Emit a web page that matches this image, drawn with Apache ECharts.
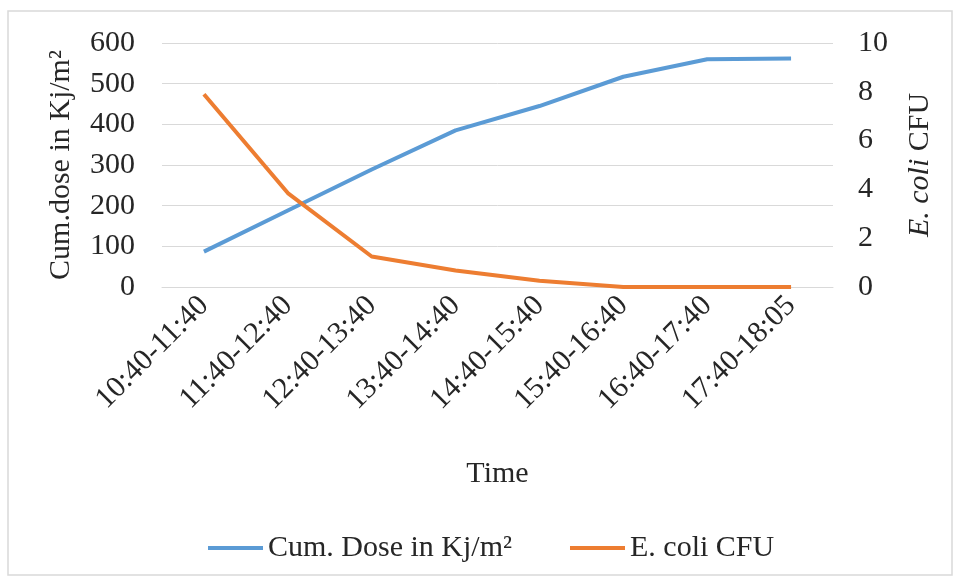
<!DOCTYPE html>
<html>
<head>
<meta charset="utf-8">
<script src="https://cdn.jsdelivr.net/npm/echarts@6/dist/echarts.min.js"></script>
<style>
  html, body { margin: 0; padding: 0; background: #fff; }
  #chart { width: 958px; height: 582px; }
</style>
</head>
<body>
<div id="chart"></div>
<script>
// Time windows of the exposure
const timeSlots = ['10:40-11:40', '11:40-12:40', '12:40-13:40', '13:40-14:40',
                   '14:40-15:40', '15:40-16:40', '16:40-17:40', '17:40-18:05'];
// Cumulative UV dose (kJ/m²)
const cumDose = [87, 188, 289, 385, 445, 517, 560, 562];
// E. coli colony counts
const ecoliCFU = [7.9, 3.85, 1.25, 0.68, 0.26, 0, 0, 0];
// Axis tick ranges
const doseTicks = { min: 0, max: 600, interval: 100 };
const cfuTicks = { min: 0, max: 10, interval: 2 };

const FONT = '"Liberation Serif", "Times New Roman", serif';
const FS = 30;
const TXT = '#262626';
const GRID = '#d9d9d9';

const chart = echarts.init(document.getElementById('chart'));
chart.setOption({
  animation: false,
  backgroundColor: '#ffffff',
  textStyle: { fontFamily: FONT, color: TXT },
  graphic: [{
    type: 'rect',
    shape: { x: 8, y: 11, width: 944, height: 564 },
    style: { fill: 'none', stroke: GRID, lineWidth: 1.5 },
    silent: true
  }],
  grid: { left: 162, right: 125, top: 43, bottom: 295 },
  legend: {
    bottom: 14,
    left: 203,
    itemWidth: 55,
    itemHeight: 4,
    itemGap: 58,
    icon: 'rect',
    textStyle: { fontFamily: FONT, fontSize: FS, color: TXT },
    data: ['Cum. Dose in Kj/m²', 'E. coli CFU']
  },
  xAxis: {
    type: 'category',
    data: timeSlots,
    boundaryGap: true,
    name: 'Time',
    nameLocation: 'middle',
    nameGap: 172,
    nameTextStyle: { fontFamily: FONT, fontSize: FS, color: TXT },
    axisLine: { show: true, lineStyle: { color: GRID, width: 1 } },
    axisTick: { show: false },
    axisLabel: { rotate: 45, margin: 14, fontFamily: FONT, fontSize: FS, color: TXT, interval: 0 }
  },
  yAxis: [{
    type: 'value',
    min: doseTicks.min, max: doseTicks.max, interval: doseTicks.interval,
    name: 'Cum.dose in Kj/m²',
    nameLocation: 'middle',
    nameGap: 86,
    nameTextStyle: { fontFamily: FONT, fontSize: FS, color: TXT },
    axisLine: { show: false },
    axisTick: { show: false },
    axisLabel: { margin: 27, fontFamily: FONT, fontSize: FS, color: TXT },
    splitLine: { lineStyle: { color: GRID, width: 1 } }
  }, {
    type: 'value',
    position: 'right',
    min: cfuTicks.min, max: cfuTicks.max, interval: cfuTicks.interval,
    name: '{i|E. coli} CFU',
    nameLocation: 'middle',
    nameGap: 72,
    nameRotate: 90,
    nameTextStyle: {
      fontFamily: FONT, fontSize: FS, color: TXT,
      rich: { i: { fontFamily: FONT, fontSize: FS, fontStyle: 'italic', color: TXT } }
    },
    axisLine: { show: false },
    axisTick: { show: false },
    axisLabel: { margin: 25, fontFamily: FONT, fontSize: FS, color: TXT },
    splitLine: { show: false }
  }],
  series: [{
    name: 'Cum. Dose in Kj/m²',
    type: 'line',
    yAxisIndex: 0,
    data: cumDose,
    symbol: 'none',
    lineStyle: { color: '#5B9BD5', width: 4 },
    itemStyle: { color: '#5B9BD5' }
  }, {
    name: 'E. coli CFU',
    type: 'line',
    yAxisIndex: 1,
    data: ecoliCFU,
    symbol: 'none',
    lineStyle: { color: '#ED7D31', width: 4 },
    itemStyle: { color: '#ED7D31' }
  }]
});
</script>
</body>
</html>
